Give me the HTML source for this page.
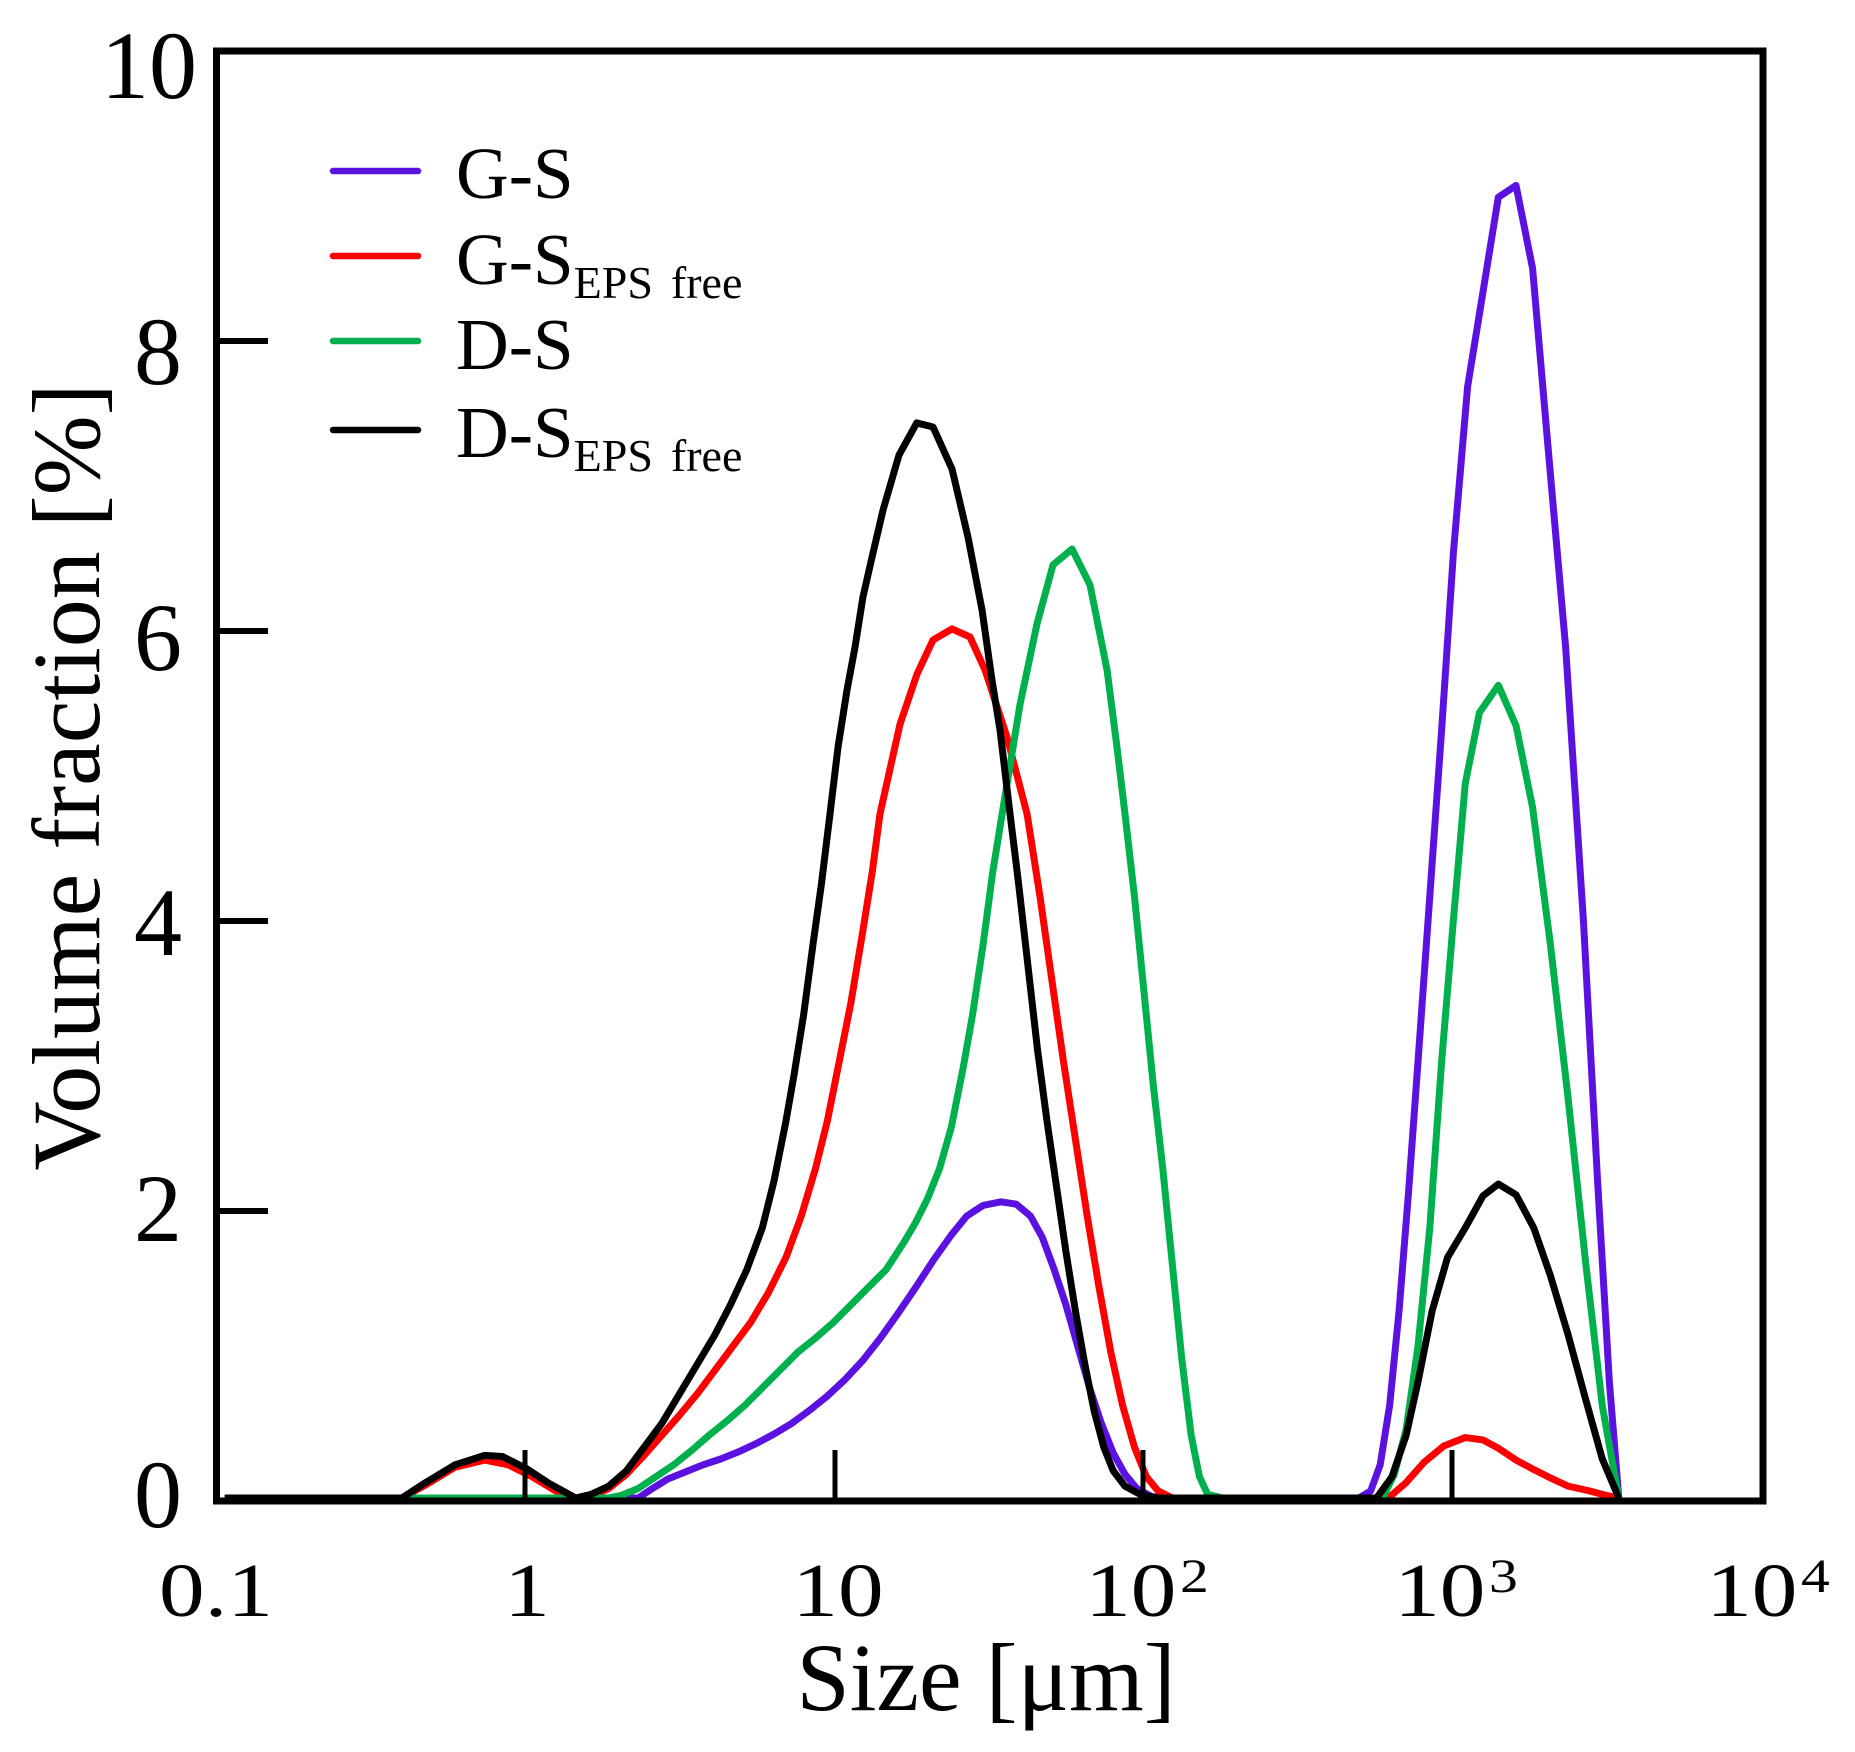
<!DOCTYPE html>
<html>
<head>
<meta charset="utf-8">
<style>
  html, body { margin: 0; padding: 0; background: #ffffff; }
  svg { display: block; }
  text { font-family: "Liberation Serif", "Times New Roman", serif; fill: #000; }
</style>
</head>
<body>
<svg width="1855" height="1752" viewBox="0 0 1855 1752" xmlns="http://www.w3.org/2000/svg" font-family="Liberation Serif, Times New Roman, serif">
  <rect x="0" y="0" width="1855" height="1752" fill="#ffffff"/>

  <!-- Curves (points in reference-display coords, mapped to page coords) -->
  <g transform="matrix(1.1814 0 0 1.1846 0.3 -4.1)" fill="none" stroke-linejoin="round" stroke-linecap="butt">
    <polyline vector-effect="non-scaling-stroke" stroke="#5B12E0" stroke-width="7" points="190,1268 540,1268 552,1260 565,1252 580,1246 595,1240 610,1235 625,1229 640,1222 655,1214 670,1205 685,1194 700,1182 715,1168 730,1152 745,1133 760,1112 775,1090 790,1067 805,1046 818,1030 832,1021 847,1018 860,1020 872,1030 882,1048 892,1075 902,1105 912,1140 922,1175 932,1205 942,1230 952,1248 962,1260 975,1267 990,1268 1150,1268 1160,1262 1168,1240 1176,1190 1184,1110 1192,1010 1200,900 1210,760 1220,620 1230,470 1242,330 1255,250 1268,170 1283,160 1297,230 1310,380 1325,550 1340,780 1352,1000 1362,1170 1370,1268"/>
    <polyline vector-effect="non-scaling-stroke" stroke="#FF0000" stroke-width="7" points="190,1268 340,1268 360,1257 385,1242 410,1236 430,1240 450,1250 470,1262 487,1268 500,1267 515,1260 530,1248 545,1232 560,1215 575,1198 590,1180 605,1160 620,1140 635,1120 650,1095 665,1065 678,1030 690,990 700,950 710,900 720,850 730,790 738,740 744.6,690.6 761.6,614.6 776,572.4 789.5,543.7 805.6,534.4 820.8,541.2 833.5,569 852.1,625.6 869.1,690.6 880,760 890,830 900,900 910,965 920,1030 930,1090 940,1145 950,1190 960,1225 970,1250 980,1262 992,1268 1175,1268 1190,1255 1205,1238 1222,1224 1240,1217 1255,1219 1268,1226 1283,1236 1298,1244 1312,1251 1327,1258 1345,1262 1360,1266 1370,1268"/>
    <polyline vector-effect="non-scaling-stroke" stroke="#00B04C" stroke-width="7" points="190,1268 515,1268 525,1266 540,1260 555,1250 570,1240 585,1228 600,1215 615,1203 630,1190 645,1175 660,1160 675,1145 690,1133 705,1120 720,1105 735,1090 750,1075 765,1052 775,1035 785,1015 795,990 805,955 815,905 823,860 832,800 840,740 848,690.6 863.2,597.8 877.5,530.2 891.1,480.4 907.2,466.9 922.4,497.3 936.8,569 945.2,634.1 952,690.6 960,760 968,840 976,920 984,990 992,1070 1000,1150 1008,1215 1015,1250 1022,1265 1035,1268 1170,1268 1180,1248 1190,1210 1200,1140 1210,1040 1220,900 1230,780 1240,665 1252,605 1268,582 1283,616 1297,685 1312,800 1327,930 1342,1070 1356,1190 1370,1268"/>
    <polyline vector-effect="non-scaling-stroke" stroke="#000000" stroke-width="7" points="190,1268 340,1268 360,1255 385,1240 410,1232 425,1233 445,1243 465,1256 487,1268 500,1265 515,1258 530,1245 545,1225 560,1205 575,1180 590,1155 605,1130 618,1105 632,1075 645,1040 655,1000 665,950 672,910 680,860 688,800 695,750 702.3,690.6 709.1,634.1 716.7,586 723.5,549.6 730.2,507.4 737.9,473.7 747.2,434 760.7,387.6 775.7,360.5 789.5,363.9 805.6,399.4 819.1,456.8 831,518.4 839.4,577.5 846.2,619.7 854.7,690.6 862,750 870,820 878,890 886,950 894,1005 902,1060 910,1110 918,1155 926,1195 934,1225 942,1245 952,1258 965,1265 980,1268 1165,1268 1178,1250 1190,1215 1200,1170 1212,1110 1225,1065 1240,1040 1255,1013 1268,1003 1283,1012 1298,1040 1312,1080 1327,1130 1342,1185 1356,1235 1370,1268"/>
  </g>

  <!-- Axes box -->
  <rect x="216.5" y="51" width="1546.5" height="1450" fill="none" stroke="#000" stroke-width="7"/>

  <!-- Y ticks -->
  <g stroke="#000" stroke-width="6">
    <line x1="216.5" y1="1211" x2="268" y2="1211"/>
    <line x1="216.5" y1="921" x2="268" y2="921"/>
    <line x1="216.5" y1="631" x2="268" y2="631"/>
    <line x1="216.5" y1="341" x2="268" y2="341"/>
  </g>
  <!-- X ticks -->
  <g stroke="#000" stroke-width="5">
    <line x1="525" y1="1501" x2="525" y2="1450"/>
    <line x1="835" y1="1501" x2="835" y2="1450"/>
    <line x1="1143" y1="1501" x2="1143" y2="1450"/>
    <line x1="1452" y1="1501" x2="1452" y2="1450"/>
  </g>

  <!-- Y tick labels -->
  <g font-size="96" text-anchor="middle">
    <text x="158" y="1527">0</text>
    <text x="158" y="1241">2</text>
    <text x="158" y="955">4</text>
    <text x="158" y="670">6</text>
    <text x="158" y="384">8</text>
    <text x="149" y="98">10</text>
  </g>

  <!-- X tick labels -->
  <g font-size="76" text-anchor="middle">
    <text transform="translate(216,1616) scale(1.2,1)">0.1</text>
    <text transform="translate(527,1616) scale(1.2,1)">1</text>
    <text transform="translate(838,1616) scale(1.2,1)">10</text>
    <text transform="translate(1147,1616) scale(1.2,1)">10<tspan font-size="48" dx="3" dy="-24">2</tspan></text>
    <text transform="translate(1456,1616) scale(1.2,1)">10<tspan font-size="48" dx="3" dy="-24">3</tspan></text>
    <text transform="translate(1768,1616) scale(1.2,1)">10<tspan font-size="48" dx="3" dy="-24">4</tspan></text>
  </g>

  <!-- Axis titles -->
  <text x="986" y="1710" font-size="96" text-anchor="middle">Size [μm]</text>
  <text transform="translate(99,777) rotate(-90)" font-size="96" text-anchor="middle">Volume fraction [%]</text>

  <!-- Legend -->
  <g stroke-width="6.5" stroke-linecap="round">
    <line x1="333" y1="171" x2="418" y2="171" stroke="#5B12E0"/>
    <line x1="333" y1="256" x2="418" y2="256" stroke="#FF0000"/>
    <line x1="333" y1="341" x2="418" y2="341" stroke="#00B04C"/>
    <line x1="333" y1="430" x2="418" y2="430" stroke="#000000"/>
  </g>
  <g font-size="73">
    <text x="456" y="198">G-S</text>
    <text x="456" y="284">G-S<tspan font-size="46" dy="14">EPS</tspan><tspan font-size="46" dx="18">free</tspan></text>
    <text x="456" y="369">D-S</text>
    <text x="456" y="457">D-S<tspan font-size="46" dy="14">EPS</tspan><tspan font-size="46" dx="18">free</tspan></text>
  </g>
</svg>
</body>
</html>
